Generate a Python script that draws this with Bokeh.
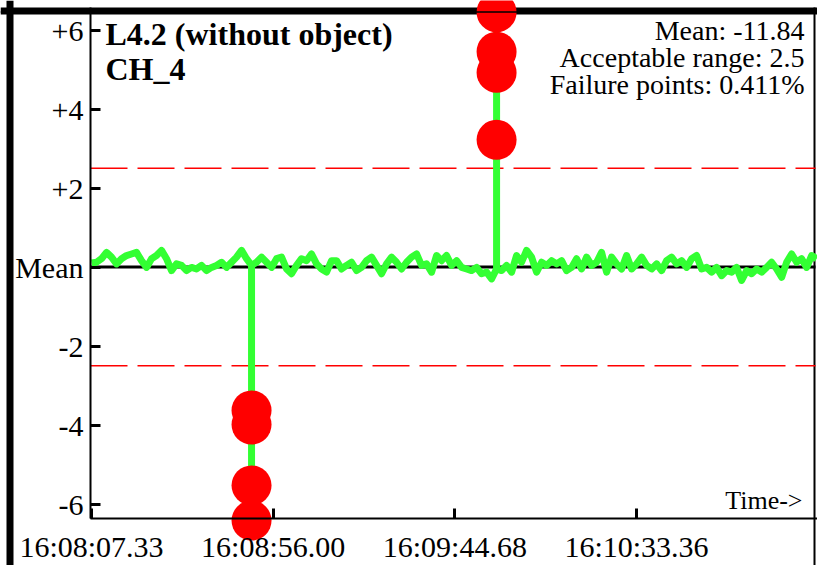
import numpy as np
from bokeh.plotting import figure
from bokeh.models import Span, BoxAnnotation, Label, FixedTicker, Range1d, LinearAxis
from bokeh.embed import file_html
from bokeh.resources import INLINE

# ---------------- data ----------------
x_tick_labels = ["16:08:07.33", "16:08:56.00", "16:09:44.68", "16:10:33.36"]
y_tick_values = [6, 4, 2, 0, -2, -4, -6]
y_tick_labels = ["+6", "+4", "+2", "Mean", "-2", "-4", "-6"]

title_lines = ["L4.2 (without object)", "CH_4"]
mean_value = -11.84
acceptable_range = 2.5
failure_percent = 0.411

sample_step_cs = 134  # sampling interval, hundredths of a second

# deviation from mean, one value per sample
signal = [
    0.10,
    0.12, 0.21, 0.37, 0.25, 0.08, 0.21, 0.29, 0.33, 0.37, 0.16, -0.01, 0.21, 0.29, 0.42, 0.21, -0.09,
    0.08, 0.04, -0.09, -0.01, -0.05, 0.04, -0.09, -0.01, 0.04, 0.12, -0.01, 0.12, 0.25, 0.42, 0.21, 0.04,
    0.12, 0.25, 0.12, -0.01, 0.21, 0.25, -0.05, -0.17, 0.04, 0.21, 0.16, 0.33, 0.08, -0.05, -0.13, 0.16,
    0.16, -0.05, 0.04, 0.12, -0.09, -0.01, 0.16, 0.25, 0.04, -0.17, 0.08, 0.25, 0.12, -0.05, 0.12, 0.25,
    0.33, 0.04, 0.08, -0.13, 0.29, 0.16, 0.29, 0.04, 0.16, -0.01, -0.05, -0.09, -0.01, -0.17, -0.13, -0.30,
    -0.05, -0.09, 0.04, -0.13, 0.29, 0.12, 0.42, 0.25, -0.13, 0.12, 0.04, 0.16, 0.08, 0.16, -0.09,
    -0.01, 0.21, -0.05, 0.25, 0.04, 0.12, 0.37, -0.13, 0.25, 0.08, -0.05, 0.29, -0.05, 0.08, 0.25, 0.04,
    -0.05, 0.08, -0.09, 0.16, 0.25, 0.08, 0.16, -0.01, 0.21, 0.29, -0.05, -0.01, -0.13, -0.01, -0.22, -0.09,
    -0.13, -0.01, -0.34, -0.09, -0.17, -0.05, -0.13, -0.01, 0.12, -0.05, -0.26, 0.12, 0.33, 0.12, 0.21, -0.01,
    0.29, 0.21,
]

# failure points (sample index, deviation)
fail_index = [32, 32, 32, 32, 81, 81, 81, 81]
fail_values = [-3.63, -3.99, -5.53, -6.42, 3.22, 4.92, 5.45, 6.45]


def to_cs(label):
    h, m, s = label.split(":")
    return int(round((int(h) * 3600 + int(m) * 60 + float(s)) * 100))


t0 = to_cs(x_tick_labels[0])
x_ticks = [to_cs(l) - t0 for l in x_tick_labels]

# build the line: each failure burst is drawn as an excursion at its sample time
line_t, line_v = [], []
for i, v in enumerate(signal):
    t = i * sample_step_cs
    line_t.append(t)
    line_v.append(v)
    burst = [fv for fi, fv in zip(fail_index, fail_values) if fi == i]
    if burst:
        for fv in burst:
            line_t.append(t)
            line_v.append(fv)
        line_t.append(t)
        line_v.append(v)

fail_t = [fi * sample_step_cs for fi in fail_index]

# ---------------- figure ----------------
FONT = "Liberation Serif"
W, H = 817, 565
px_per_unit = 39.5      # vertical scale
mean_px = 266.5         # mean line, px from top
px_per_cs = 0.03732     # horizontal scale
x_start = -27           # time at the y axis


def yv(py):   # page pixel row -> data value
    return (mean_px - py) / px_per_unit


def xv(px):   # page pixel column -> data value
    return x_start + (px - 90) / px_per_cs


axis_x, axis_y = xv(90), yv(518)     # where the two axes cross
plot_right, plot_top = xv(815), yv(7)

p = figure(
    width=W, height=H,
    x_range=Range1d(xv(0), xv(W)),
    y_range=Range1d(yv(H), yv(0)),
    output_backend="svg", toolbar_location=None,
    x_axis_location=None, y_axis_location=None,
    min_border=0,
)
p.background_fill_color = "white"
p.border_fill_color = "white"
p.outline_line_color = None
p.xgrid.visible = False
p.ygrid.visible = False

xaxis = LinearAxis(fixed_location=axis_y, bounds=(axis_x, xv(W)))
yaxis = LinearAxis(fixed_location=axis_x, bounds=(axis_y, plot_top))
p.add_layout(xaxis, "below")
p.add_layout(yaxis, "left")

for ax in (xaxis, yaxis):
    ax.axis_line_width = 2
    ax.axis_line_color = "black"
    ax.major_tick_in = 10
    ax.major_tick_out = 0
    ax.major_tick_line_width = 3
    ax.major_tick_line_color = "black"
    ax.minor_tick_line_color = None
    ax.major_label_text_font = FONT
    ax.major_label_text_color = "black"
    ax.major_label_text_font_size = "30px"

xaxis.ticker = FixedTicker(ticks=x_ticks)
xaxis.major_label_overrides = {t: l for t, l in zip(x_ticks, x_tick_labels)}
xaxis.major_label_standoff = 11

yaxis.ticker = FixedTicker(ticks=y_tick_values)
yaxis.major_label_overrides = {v: l for v, l in zip(y_tick_values, y_tick_labels)}
yaxis.major_label_standoff = 7

# thick borders and the right edge (underlay)
p.add_layout(BoxAnnotation(left=xv(6), right=xv(13),
                           fill_color="black", fill_alpha=1, line_color=None, level="underlay"))
p.add_layout(BoxAnnotation(top=yv(7), bottom=yv(14),
                           fill_color="black", fill_alpha=1, line_color=None, level="underlay"))
p.add_layout(BoxAnnotation(left=xv(813), right=xv(815), top=yv(7),
                           fill_color="black", fill_alpha=1, line_color=None, level="underlay"))

# mean and acceptable range lines
p.segment(x0=[axis_x], y0=[0], x1=[plot_right], y1=[0], line_color="black", line_width=3)
p.segment(x0=[axis_x, axis_x], y0=[acceptable_range, -acceptable_range],
          x1=[plot_right, plot_right], y1=[acceptable_range, -acceptable_range],
          line_color="#ff0000", line_width=1.3, line_dash="37 10")

p.line(line_t, line_v, line_color="#33ff33", line_width=7, line_join="round")
p.scatter(fail_t, fail_values, size=40, fill_color="#ff0000", line_color=None)

p.add_layout(Span(location=yv(11.5), dimension="width",
                  line_color="black", line_width=1.5, level="overlay"))

# texts (baseline rows, shifted for Bokeh's text placement)
for k, s in enumerate(title_lines):
    p.add_layout(Label(x=xv(105), y=yv(33 + 35 * k), text=s,
                       text_font=FONT, text_font_size="32px", text_font_style="bold",
                       text_align="left", text_baseline="alphabetic", text_color="black"))

info = [f"Mean: {mean_value:.2f}", f"Acceptable range: {acceptable_range}",
        f"Failure points: {failure_percent}%"]
for k, s in enumerate(info):
    p.add_layout(Label(x=xv(804), y=yv(30 + 27 * k), text=s,
                       text_font=FONT, text_font_size="28px",
                       text_align="right", text_baseline="alphabetic", text_color="black"))

p.add_layout(Label(x=xv(802), y=yv(500), text="Time->",
                   text_font=FONT, text_font_size="26px",
                   text_align="right", text_baseline="alphabetic", text_color="black"))

open("out.html", "w").write(file_html(p, INLINE))
